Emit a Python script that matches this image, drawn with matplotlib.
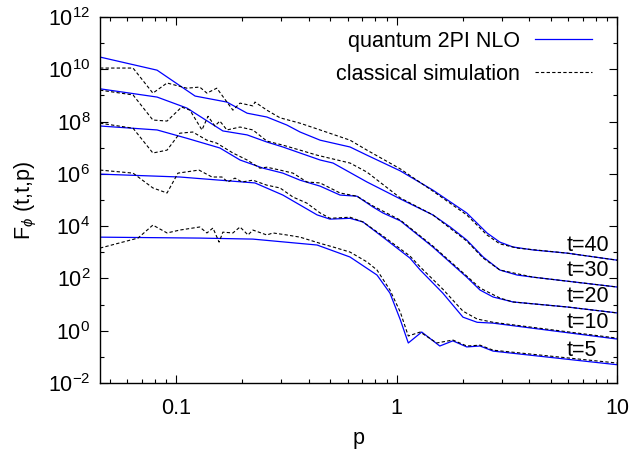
import numpy as np
import matplotlib
matplotlib.use("Agg")
import matplotlib.pyplot as plt
from matplotlib.ticker import LogLocator, FixedLocator, FuncFormatter, NullFormatter

plt.rcParams['font.family'] = ['Liberation Sans', 'DejaVu Sans']
plt.rcParams['mathtext.fontset'] = 'custom'
plt.rcParams['mathtext.rm'] = 'Liberation Sans'
plt.rcParams['mathtext.it'] = 'Liberation Sans:italic'
plt.rcParams['mathtext.sf'] = 'Liberation Sans'
plt.rcParams['font.size'] = 15.5

times = [40, 30, 20, 10, 5]

# quantum 2PI NLO (solid blue)
p_q40 = [0.0452, 0.082, 0.122, 0.170, 0.210, 0.258, 0.318, 0.365, 0.450, 0.615, 0.734,
         1.04, 1.46, 2.08, 2.57, 2.94, 3.37, 4.16, 5.93, 10.0]
F_q40 = [2.95e10, 9.3e9, 9.5e8, 5.6e8, 2.1e8, 1.5e8, 7.4e7, 4.0e7, 1.95e7, 1.07e7, 5.2e6,
         1.3e6, 2.4e5, 3.2e4, 5.5e3, 2.45e3, 1.6e3, 1.23e3, 9.3e2, 5.0e2]

p_q30 = [0.0452, 0.082, 0.112, 0.163, 0.210, 0.258, 0.305, 0.365, 0.450, 0.515, 0.734,
         1.04, 1.46, 1.75, 2.08, 2.47, 2.94, 3.52, 4.16, 10.0]
F_q30 = [1.8e9, 8.7e8, 3.3e8, 4.4e7, 3.1e7, 1.66e7, 1.07e7, 6.3e6, 3.4e6, 2.6e6, 4.9e5,
         1.1e5, 2.7e4, 9.3e3, 2.95e3, 6.6e2, 2.1e2, 1.35e2, 1.12e2, 47]

p_q20 = [0.0452, 0.082, 0.112, 0.158, 0.195, 0.248, 0.305, 0.365, 0.450, 0.554, 0.661,
         0.782, 0.867, 1.04, 1.46, 2.08, 2.39, 2.74, 3.37, 5.93, 10.0]
F_q20 = [6.8e7, 4.8e7, 2.3e7, 9.8e6, 3.4e6, 1.66e6, 1.07e6, 5.75e5, 3.4e5, 1.55e5, 1.4e5,
         5.4e4, 3.2e4, 1.6e4, 1.6e3, 1.12e2, 36, 19.5, 12.6, 8.1, 4.8]

p_q10 = [0.0452, 0.104, 0.228, 0.305, 0.436, 0.499, 0.615, 0.704, 0.867, 1.15, 1.28,
         1.62, 2.00, 2.32, 2.74, 10.0]
F_q10 = [9.8e5, 7.6e5, 4.5e5, 1.55e5, 2.7e4, 1.86e4, 2.0e4, 1.45e4, 3.8e3, 6.0e2, 2.1e2,
         27.5, 3.3, 2.1, 1.95, 0.48]

p_q5 = [0.0452, 0.128, 0.223, 0.436, 0.615, 0.815, 0.933, 1.04, 1.13, 1.30, 1.57,
        1.80, 2.08, 2.39, 2.74, 10.0]
F_q5 = [3.8e3, 3.5e3, 3.2e3, 1.9e3, 6.6e2, 1.35e2, 27.5, 2.6, 0.34, 0.89, 0.26,
        0.41, 0.24, 0.26, 0.166, 0.05]

# classical simulation (dashed black)
p_c40 = [0.0452, 0.0638, 0.0785, 0.091, 0.112, 0.128, 0.138, 0.153, 0.181, 0.195, 0.223,
         0.228, 0.258, 0.296, 0.365, 0.450, 0.615, 0.734, 1.04, 1.46, 2.08, 2.57, 2.94,
         3.52, 5.93, 10.0]
F_c40 = [1.12e10, 1.12e10, 1.23e9, 3.0e9, 1.9e9, 2.1e9, 1.23e9, 1.9e9, 2.75e8, 5.1e8, 4.0e8,
         5.6e8, 2.75e8, 1.4e8, 8.7e7, 4.8e7, 1.95e7, 8.1e6, 1.55e6, 2.2e5, 2.7e4, 4.6e3, 2.1e3,
         1.45e3, 9.3e2, 5.0e2]

p_c30 = [0.0452, 0.0638, 0.0785, 0.091, 0.106, 0.1156, 0.131, 0.1396, 0.150, 0.158, 0.170,
         0.195, 0.223, 0.258, 0.305, 0.365, 0.436, 0.615, 0.734, 1.04, 1.46, 2.08, 2.47,
         2.94, 4.16, 10.0]
F_c30 = [1.6e9, 1.05e9, 1.15e8, 1.05e8, 3.6e8, 2.75e8, 4.8e7, 1.6e8, 6.8e7, 1.05e8, 4.8e7,
         6.2e7, 4.8e7, 1.8e7, 1.26e7, 8.1e6, 5.2e6, 2.6e6, 1.17e6, 1.2e5, 2.7e4, 2.7e3, 6.0e2,
         2.1e2, 1.12e2, 47]

p_c20 = [0.0452, 0.0638, 0.0785, 0.091, 0.104, 0.119, 0.138, 0.153, 0.181, 0.210, 0.240,
         0.258, 0.296, 0.339, 0.392, 0.450, 0.554, 0.661, 0.782, 1.04, 1.46, 2.08, 2.39,
         2.94, 3.37, 5.93, 10.0]
F_c20 = [8.7e7, 5.6e7, 6.3e6, 8.1e6, 3.6e7, 4.0e7, 1.95e7, 1.5e7, 6.3e6, 3.4e6, 1.66e6,
         1.8e6, 1.4e6, 1.07e6, 4.9e5, 4.5e5, 1.86e5, 1.4e5, 5.9e4, 1.7e4, 1.74e3, 1.23e2, 43,
         17.8, 12.6, 8.1, 4.8]

p_c10 = [0.0452, 0.0638, 0.0785, 0.091, 0.102, 0.127, 0.1455, 0.1614, 0.1718, 0.185, 0.199,
         0.223, 0.258, 0.296, 0.339, 0.392, 0.450, 0.499, 0.615, 0.704, 0.867, 1.15, 1.28,
         1.62, 2.00, 2.32, 2.74, 10.0]
F_c10 = [1.4e6, 1.07e6, 2.9e5, 1.86e5, 1.07e6, 1.4e6, 7.6e5, 7.6e5, 4.9e5, 6.9e5, 4.9e5,
         5.75e5, 3.7e5, 2.9e5, 1.3e5, 7.6e4, 3.2e4, 2.0e4, 2.2e4, 1.45e4, 4.2e3, 7.2e2, 2.75e2,
         39, 5.6, 2.8, 2.1, 0.52]

p_c5 = [0.0452, 0.0672, 0.0785, 0.091, 0.104, 0.128, 0.138, 0.147, 0.1567, 0.163, 0.181,
        0.195, 0.212, 0.223, 0.258, 0.275, 0.318, 0.365, 0.450, 0.515, 0.615, 0.734, 0.815,
        0.933, 1.04, 1.13, 1.28, 1.52, 1.80, 2.08, 2.39, 2.74, 10.0]
F_c5 = [1.45e3, 3.5e3, 1.1e4, 5.5e3, 7.1e3, 9.3e3, 5.5e3, 8.5e3, 2.45e3, 5.9e3, 5.5e3,
        9.3e3, 4.6e3, 7.1e3, 4.6e3, 5.5e3, 4.6e3, 3.8e3, 2.2e3, 1.6e3, 1.02e3, 4.3e2, 2.1e2,
        36, 5.1, 0.63, 0.89, 0.34, 0.44, 0.26, 0.28, 0.18, 0.058]

quantum = [(p_q40, F_q40), (p_q30, F_q30), (p_q20, F_q20), (p_q10, F_q10), (p_q5, F_q5)]
classical = [(p_c40, F_c40), (p_c30, F_c30), (p_c20, F_c20), (p_c10, F_c10), (p_c5, F_c5)]

fig = plt.figure(figsize=(6.31, 4.49), dpi=100)
ax = fig.add_axes([0.1585, 0.147, 0.8195, 0.815])

for i, ((pq, Fq), (pc, Fc)) in enumerate(zip(quantum, classical)):
    ax.plot(pq, Fq, color='#0000ff', lw=0.9,
            label='quantum 2PI NLO' if i == 0 else None, zorder=2)
    ax.plot(pc, Fc, color='black', lw=0.8, dashes=(3, 2),
            label='classical simulation' if i == 0 else None, zorder=3)

ax.set_xscale('log')
ax.set_yscale('log')
ax.set_xlim(0.0452, 10)
ax.set_ylim(1e-2, 1e12)

# curve labels
label_F = [1.9e3, 2.1e2, 21, 2.1, 0.18]
for t, yl in zip(times, label_F):
    ax.text(5.93, yl, 't=%d' % t, ha='left', va='center')

ax.yaxis.set_major_locator(FixedLocator([10.0**k for k in range(-2, 13, 2)]))
ax.yaxis.set_minor_locator(FixedLocator([10.0**k for k in range(-1, 12, 2)]))
ax.yaxis.set_major_formatter(FuncFormatter(lambda v, pos: r'$10^{%d}$' % round(np.log10(v))))
ax.yaxis.set_minor_formatter(NullFormatter())
ax.xaxis.set_major_locator(FixedLocator([0.1, 1, 10]))
ax.xaxis.set_minor_locator(LogLocator(base=10, subs=np.arange(2, 10)))
ax.xaxis.set_major_formatter(FuncFormatter(lambda v, pos: '%g' % v))
ax.xaxis.set_minor_formatter(NullFormatter())

ax.tick_params(which='both', direction='in', top=True, right=True, width=0.8)
ax.tick_params(which='major', length=6)
ax.tick_params(which='minor', length=3)
ax.tick_params(axis='y', which='major', pad=7)
ax.tick_params(axis='x', which='major', pad=11)
for s in ax.spines.values():
    s.set_linewidth(1.0)

ax.set_xlabel('p', labelpad=6)
ax.set_ylabel(r'F$_\phi$ (t,t,p)', labelpad=6)

ax.legend(loc='upper right', frameon=False, markerfirst=False, handlelength=2.65,
          handletextpad=0.7, labelspacing=0.55, borderpad=0, borderaxespad=0,
          bbox_to_anchor=(0.952, 0.962))

fig.savefig('out.png', dpi=100)
